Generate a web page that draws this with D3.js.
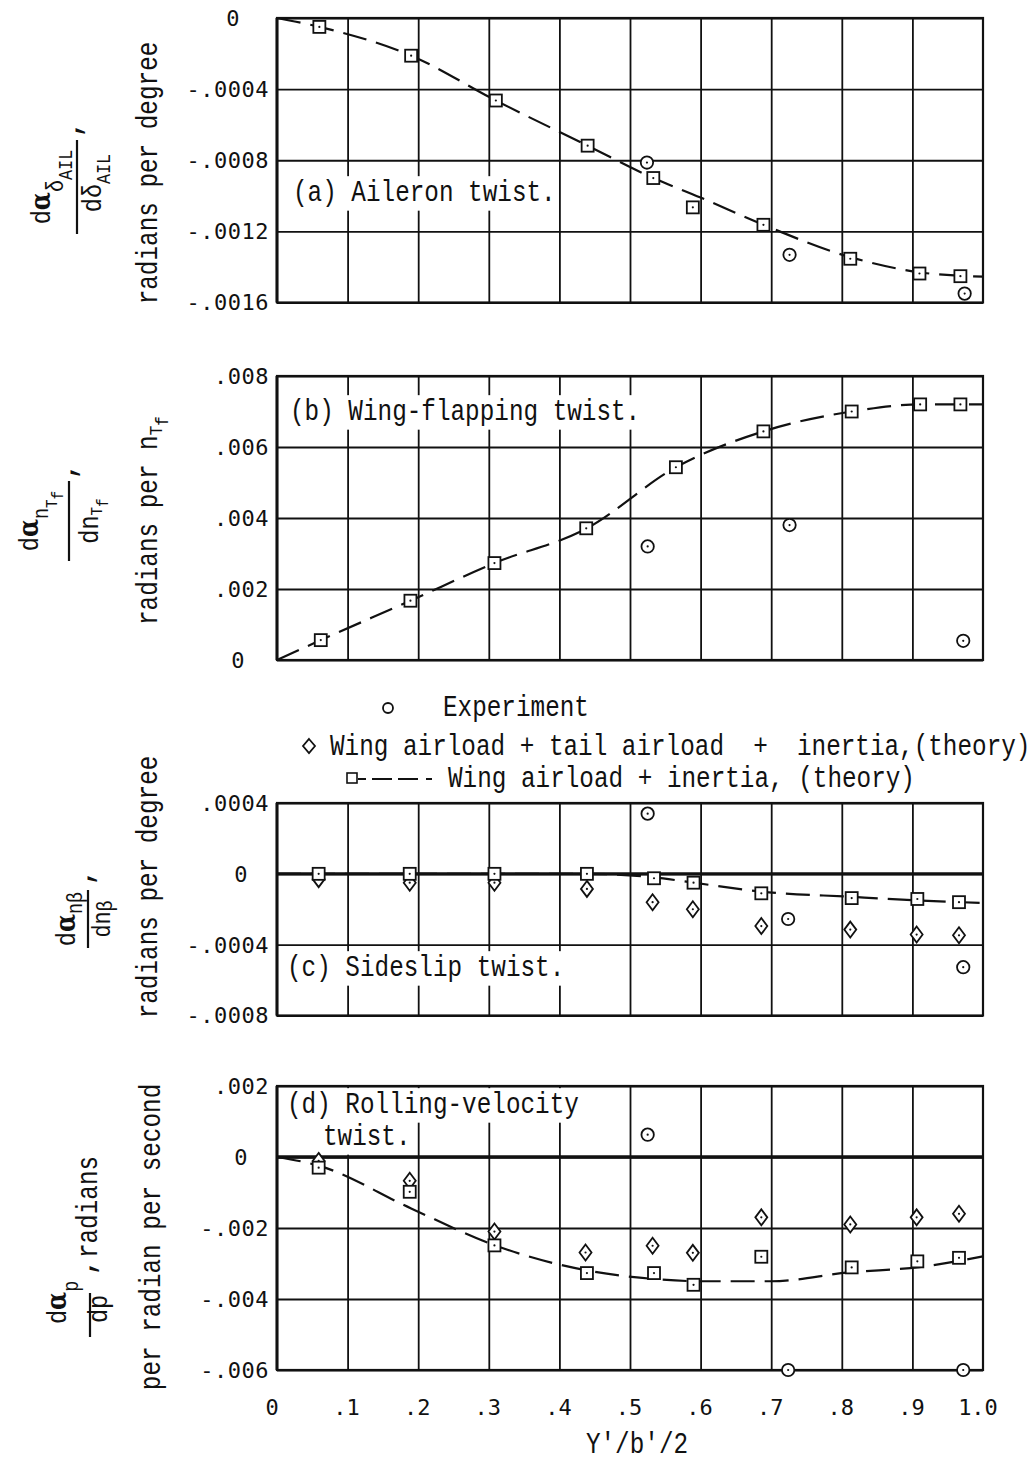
<!DOCTYPE html>
<html><head><meta charset="utf-8">
<script src="https://cdn.jsdelivr.net/npm/d3@7"></script>
<style>body{margin:0;background:#fff}svg{display:block}text{white-space:pre}</style>
</head><body>
<svg id="c" width="1036" height="1466"></svg>
<script>
// ---------- data ----------
const xTickValues = [0,0.1,0.2,0.3,0.4,0.5,0.6,0.7,0.8,0.9,1.0];
const xTickLabels = ["0",".1",".2",".3",".4",".5",".6",".7",".8",".9","1.0"];
const xGridValues = [0.1,0.2,0.3,0.4,0.5,0.6,0.7,0.8,0.9];

// (a) Aileron twist
const aYTicks  = [0,-0.0004,-0.0008,-0.0012,-0.0016];
const aYLabels = ["0","-.0004","-.0008","-.0012","-.0016"];
const aSquareX = [0.06,0.19,0.31,0.44,0.533,0.589,0.689,0.812,0.91,0.968];
const aSquareY = [-0.00005,-0.000212,-0.000464,-0.000718,-0.0009,-0.001065,-0.001163,-0.001354,-0.001437,-0.001452];
const aCircleX = [0.524,0.726,0.974];
const aCircleY = [-0.000813,-0.001332,-0.00155];
const aCurveX  = [0,0.06,0.19,0.31,0.44,0.533,0.6,0.689,0.812,0.91,1.0];
const aCurveY  = [0,-0.00005,-0.000212,-0.000464,-0.000718,-0.0009,-0.00101,-0.001163,-0.001345,-0.00143,-0.001455];

// (b) Wing-flapping twist
const bYTicks  = [0.008,0.006,0.004,0.002,0];
const bYLabels = [".008",".006",".004",".002","0"];
const bSquareX = [0.062,0.189,0.308,0.438,0.565,0.689,0.814,0.911,0.968];
const bSquareY = [0.00056,0.00167,0.00273,0.00371,0.00543,0.00644,0.0070,0.0072,0.0072];
const bCircleX = [0.525,0.726,0.972];
const bCircleY = [0.0032,0.0038,0.00054];
const bCurveX  = [0,0.062,0.189,0.308,0.438,0.565,0.689,0.814,0.911,0.968,1.0];
const bCurveY  = [0,0.00056,0.00167,0.00273,0.0037,0.00543,0.00644,0.0070,0.0072,0.0072,0.0072];

// (c) Sideslip twist
const cYTicks   = [0.0004,0,-0.0004,-0.0008];
const cYLabels  = [".0004","0","-.0004","-.0008"];
const cSquareX  = [0.059,0.188,0.308,0.439,0.534,0.59,0.686,0.814,0.907,0.966];
const cSquareY  = [0,0,0,0,-0.000025,-0.00005,-0.00011,-0.000137,-0.000142,-0.00016];
const cDiamondX = [0.059,0.188,0.308,0.439,0.532,0.589,0.686,0.812,0.906,0.966];
const cDiamondY = [-0.00003,-0.00005,-0.00005,-0.000085,-0.00016,-0.0002,-0.000295,-0.000315,-0.000343,-0.000347];
const cCircleX  = [0.525,0.724,0.972];
const cCircleY  = [0.00034,-0.000255,-0.000527];
const cCurveX   = [0,0.439,0.534,0.59,0.686,0.814,0.907,1.0];
const cCurveY   = [0,0,-0.00002,-0.00005,-0.0001,-0.00013,-0.00015,-0.000165];

// (d) Rolling-velocity twist
const dYTicks   = [0.002,0,-0.002,-0.004,-0.006];
const dYLabels  = [".002","0","-.002","-.004","-.006"];
const dSquareX  = [0.059,0.188,0.308,0.439,0.534,0.59,0.686,0.814,0.907,0.966];
const dSquareY  = [-0.0003,-0.00098,-0.00249,-0.00327,-0.00327,-0.0036,-0.00281,-0.00311,-0.00294,-0.00284];
const dDiamondX = [0.059,0.188,0.308,0.437,0.532,0.589,0.686,0.812,0.906,0.966];
const dDiamondY = [-0.00011,-0.00067,-0.0021,-0.00269,-0.0025,-0.0027,-0.0017,-0.0019,-0.0017,-0.0016];
const dCircleX  = [0.525,0.724,0.972];
const dCircleY  = [0.00063,-0.006,-0.006];
const dCurveX   = [0,0.06,0.19,0.31,0.44,0.53,0.6,0.7,0.81,0.91,1.0];
const dCurveY   = [0,-0.00025,-0.00145,-0.0025,-0.0032,-0.00343,-0.0035,-0.0035,-0.00325,-0.0031,-0.0028];

const legendLabels = ["Experiment","Wing airload + tail airload  +  inertia,(theory)","Wing airload + inertia, (theory)"];

// ---------- layout ----------
const svg = d3.select("#c");
const X0 = 277, X1 = 983;
const x = d3.scaleLinear().domain([0,1]).range([X0,X1]);
const MONO = "'Liberation Mono','Courier New',monospace";
const TICKF = "'DejaVu Sans Mono',monospace";
const FS = 29, CW = 14.6, SX = CW/(0.6*FS);

function typeText(g, segs, tx, ty, rot, anchor){
  const t = g.append("text")
    .attr("transform", `translate(${tx},${ty}) rotate(${rot||0}) scale(${SX},1)`)
    .attr("xml:space","preserve")
    .attr("font-family", MONO).attr("font-size", FS)
    .attr("text-anchor", anchor||"start").attr("fill","#111");
  (typeof segs === "string" ? [{t:segs}] : segs).forEach(s=>{
    const ts = t.append("tspan").text(s.t);
    if (s.fs) ts.attr("font-size", s.fs);
    if (s.dy) ts.attr("dy", s.dy);
    if (s.ff) ts.attr("font-family", s.ff);
    if (s.fw) ts.attr("font-weight", s.fw);
  });
  return t;
}
function whiteBack(t, pad){
  const r = t.node().getBoundingClientRect();
  svg.insert("rect", () => t.node())
    .attr("x", r.left-pad).attr("y", r.top-pad+2)
    .attr("width", r.width+2*pad).attr("height", r.height+2*pad-4)
    .attr("fill","#fff");
}

const panels = [
  {y: d3.scaleLinear().domain([-0.0016,0]).range([302.5,18]), ticks:aYTicks, labels:aYLabels, zeroX:233, zeroLine:false,
   sq:[aSquareX,aSquareY], di:null, ci:[aCircleX,aCircleY], cv:[aCurveX,aCurveY],
   title:[{s:"(a) Aileron twist.", x:293, y:201}]},
  {y: d3.scaleLinear().domain([0,0.008]).range([660,376]), ticks:bYTicks, labels:bYLabels, zeroX:238, zeroLine:false,
   sq:[bSquareX,bSquareY], di:null, ci:[bCircleX,bCircleY], cv:[bCurveX,bCurveY],
   title:[{s:"(b) Wing-flapping twist.", x:290, y:420}]},
  {y: d3.scaleLinear().domain([-0.0008,0.0004]).range([1015.5,803]), ticks:cYTicks, labels:cYLabels, zeroX:241, zeroLine:true,
   sq:[cSquareX,cSquareY], di:[cDiamondX,cDiamondY], ci:[cCircleX,cCircleY], cv:[cCurveX,cCurveY],
   title:[{s:"(c) Sideslip twist.", x:287, y:976}]},
  {y: d3.scaleLinear().domain([-0.006,0.002]).range([1370,1086]), ticks:dYTicks, labels:dYLabels, zeroX:241, zeroLine:true,
   sq:[dSquareX,dSquareY], di:[dDiamondX,dDiamondY], ci:[dCircleX,dCircleY], cv:[dCurveX,dCurveY],
   title:[{s:"(d) Rolling-velocity", x:287, y:1113},{s:"twist.", x:323, y:1145}]}
];

const ink = "#111";

panels.forEach(p=>{
  const y = p.y;
  const top = y.range()[1], bot = y.range()[0];
  const g = svg.append("g");
  const vg = g.append("g").attr("transform",`translate(0,${bot})`)
    .call(d3.axisBottom(x).tickValues(xGridValues).tickSize(-(bot-top)).tickFormat(""));
  vg.select(".domain").remove();
  vg.selectAll("line").attr("stroke",ink).attr("stroke-width",1.8);
  const hg = g.append("g").attr("transform",`translate(${X0},0)`)
    .call(d3.axisLeft(y).tickValues(p.ticks).tickSize(-(X1-X0)).tickFormat(""));
  hg.select(".domain").remove();
  hg.selectAll("line").attr("stroke",ink).attr("stroke-width",1.8);
  g.append("rect").attr("x",X0).attr("y",top).attr("width",X1-X0).attr("height",bot-top)
    .attr("fill","none").attr("stroke",ink).attr("stroke-width",2.2);
  g.append("line").attr("x1",X0).attr("x2",X0).attr("y1",top).attr("y2",bot)
    .attr("stroke",ink).attr("stroke-width",3);
  if (p.zeroLine) g.append("line").attr("x1",X0).attr("x2",X1).attr("y1",y(0)).attr("y2",y(0))
    .attr("stroke",ink).attr("stroke-width",3.4);
  p.ticks.forEach((v,i)=>{
    const lab = p.labels[i];
    const t = g.append("text").attr("font-family",TICKF).attr("font-size",22)
      .attr("letter-spacing",0.5).attr("fill",ink).attr("dy","0.36em")
      .attr("y", y(v)).text(lab);
    if (lab === "0") t.attr("x", p.zeroX).attr("text-anchor","middle");
    else t.attr("x", 269).attr("text-anchor","end");
  });
  p.title.forEach(tt=>{
    const t = typeText(svg, tt.s, tt.x, tt.y, 0, "start");
    whiteBack(t, 3);
  });
  const line = d3.line().x(d=>x(d[0])).y(d=>y(d[1])).curve(d3.curveMonotoneX);
  svg.append("path").datum(d3.zip(p.cv[0],p.cv[1])).attr("d",line)
    .attr("fill","none").attr("stroke",ink).attr("stroke-width",2.2).attr("stroke-dasharray","24,10");
  const mg = svg.append("g");
  if (p.di){
    const dd = d3.zip(p.di[0],p.di[1]);
    mg.selectAll(null).data(dd).join("path")
      .attr("d",d=>{const cx=x(d[0]),cy=y(d[1]);return `M${cx},${cy-8}L${cx+6},${cy}L${cx},${cy+8}L${cx-6},${cy}Z`;})
      .attr("fill","#fff").attr("stroke",ink).attr("stroke-width",1.8);
    mg.selectAll(null).data(dd).join("circle").attr("cx",d=>x(d[0])).attr("cy",d=>y(d[1])).attr("r",1.1).attr("fill",ink);
  }
  const sd = d3.zip(p.sq[0],p.sq[1]);
  mg.selectAll(null).data(sd).join("rect")
    .attr("x",d=>x(d[0])-6).attr("y",d=>y(d[1])-6).attr("width",12).attr("height",12)
    .attr("fill","#fff").attr("stroke",ink).attr("stroke-width",1.8);
  mg.selectAll(null).data(sd).join("circle").attr("cx",d=>x(d[0])).attr("cy",d=>y(d[1])).attr("r",1.1).attr("fill",ink);
  const cd = d3.zip(p.ci[0],p.ci[1]);
  mg.selectAll(null).data(cd).join("circle").attr("cx",d=>x(d[0])).attr("cy",d=>y(d[1])).attr("r",6.2)
    .attr("fill","#fff").attr("stroke",ink).attr("stroke-width",1.8);
  mg.selectAll(null).data(cd).join("circle").attr("cx",d=>x(d[0])).attr("cy",d=>y(d[1])).attr("r",1.1).attr("fill",ink);
});

// x tick labels
xTickValues.forEach((v,i)=>{
  svg.append("text").attr("font-family",TICKF).attr("font-size",22).attr("fill",ink)
    .attr("x", x(v) - (i===10?5:(i===0?5:1))).attr("y",1415).attr("text-anchor","middle").text(xTickLabels[i]);
});
typeText(svg, "Y'/b'/2", 637, 1453, 0, "middle");

// legend
svg.append("circle").attr("cx",388).attr("cy",708).attr("r",5).attr("fill","none").attr("stroke",ink).attr("stroke-width",1.8);
typeText(svg, legendLabels[0], 443, 716, 0, "start");
svg.append("path").attr("d","M309,739L315,746L309,753L303,746Z").attr("fill","none").attr("stroke",ink).attr("stroke-width",1.8);
typeText(svg, legendLabels[1], 330, 755, 0, "start");
svg.append("rect").attr("x",347).attr("y",773).attr("width",10).attr("height",10).attr("fill","none").attr("stroke",ink).attr("stroke-width",1.6);
svg.append("line").attr("x1",358).attr("x2",440).attr("y1",779).attr("y2",779).attr("stroke",ink).attr("stroke-width",2).attr("stroke-dasharray","8,6,20,6,20");
typeText(svg, legendLabels[2], 448, 787, 0, "start");

// ---------- y-axis titles ----------
const ALPHA = {ff:"'DejaVu Serif',serif", fw:"bold"};
function rg(cx,cy){ return svg.append("g").attr("transform",`translate(${cx},${cy}) rotate(-90)`); }
function bar(g,x1,x2){ g.append("line").attr("x1",x1).attr("x2",x2).attr("y1",0).attr("y2",0).attr("stroke",ink).attr("stroke-width",2.2); }

// (a)
let g = rg(77,187);
bar(g,-47,47);
typeText(g,[{t:"d",fs:28},{t:"α",fs:28,...ALPHA},{t:"δ",fs:24,dy:13},{t:"AIL",fs:20,dy:9}],0,-27,0,"middle");
typeText(g,[{t:"d",fs:28},{t:"δ",fs:28},{t:"AIL",fs:20,dy:9}],4,24,0,"middle");
typeText(g,[{t:",",fs:30,fw:"bold"}],50,3,0,"start");
typeText(svg,"radians per degree",157,173,-90,"middle");

// (b)
g = rg(69,521);
bar(g,-40,40);
typeText(g,[{t:"d",fs:28},{t:"α",fs:28,...ALPHA},{t:"n",fs:22,dy:10},{t:"T",fs:17,dy:9},{t:"f",fs:17,dy:6}],0,-31,0,"middle");
typeText(g,[{t:"dn",fs:28},{t:"T",fs:17,dy:4},{t:"f",fs:17,dy:6}],0,29,0,"middle");
typeText(g,[{t:",",fs:30,fw:"bold"}],42,6,0,"start");
typeText(svg,[{t:"radians per n"},{t:"T",fs:19,dy:5},{t:"f",fs:19,dy:6}],157,625,-90,"start");

// (c)
g = rg(88,919);
bar(g,-29,29);
typeText(g,[{t:"d",fs:28},{t:"α",fs:28,...ALPHA},{t:"nβ",fs:22,dy:7}],0,-13,0,"middle");
typeText(g,[{t:"dn",fs:26},{t:"β",fs:22,dy:2}],0,22,0,"middle");
typeText(g,[{t:",",fs:30,fw:"bold"}],34,4,0,"start");
typeText(svg,"radians per degree",157,887,-90,"middle");

// (d)
g = rg(90,1315);
bar(g,-22,22);
typeText(g,[{t:"d",fs:28},{t:"α",fs:28,...ALPHA},{t:"p",fs:22,dy:12}],-9,-24,0,"start");
typeText(g,[{t:"dp",fs:28}],-8,17,0,"start");
typeText(g,[{t:",",fs:30,fw:"bold"}],40,4,0,"start");
typeText(svg,"radians",97,1207,-90,"middle");
typeText(svg,"per radian per second",160,1237,-90,"middle");
</script>
</body></html>
